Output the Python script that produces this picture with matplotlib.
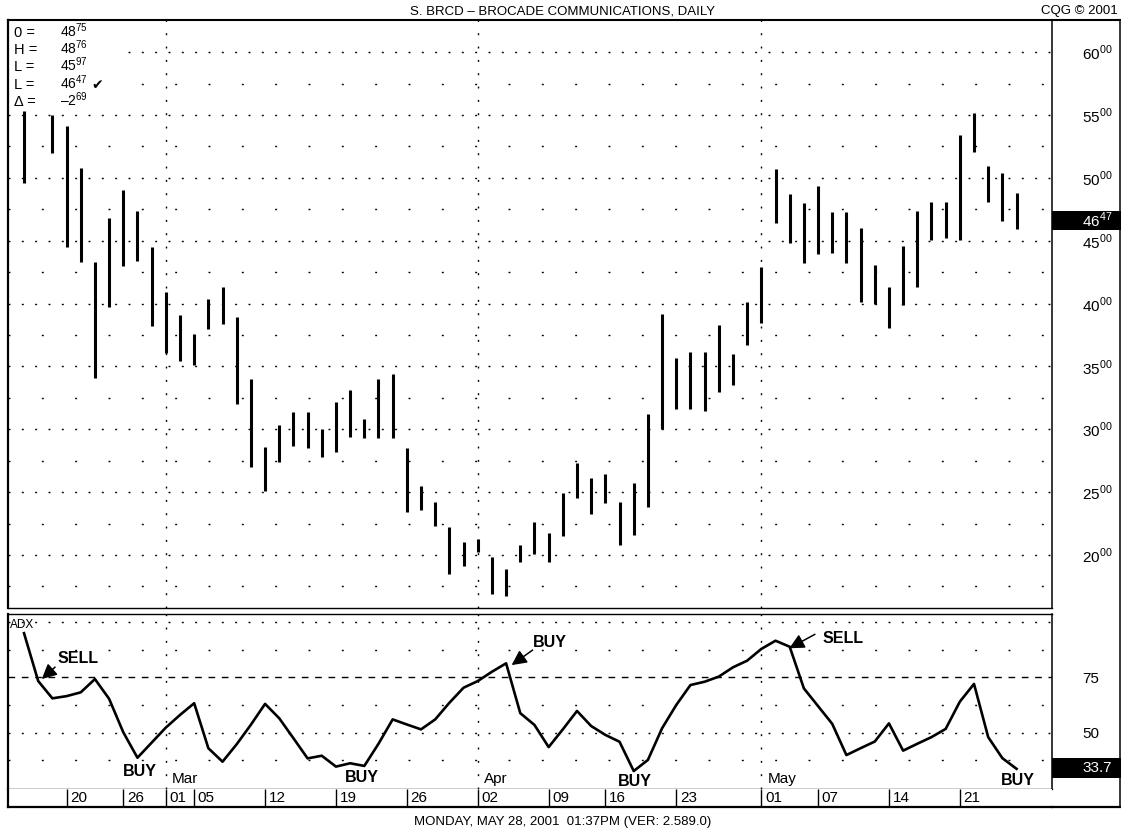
import matplotlib
matplotlib.use('Agg')
import matplotlib.pyplot as plt
from matplotlib.patches import Rectangle
from matplotlib.lines import Line2D
import numpy as np

plt.rcParams['font.family'] = ['Liberation Sans', 'DejaVu Sans']
plt.rcParams['mathtext.fontset'] = 'custom'
plt.rcParams['mathtext.rm'] = 'Liberation Sans'
plt.rcParams['lines.scale_dashes'] = False

# daily bars, Feb 14 - May 25 2001 (Feb 15 bar hidden under the info box)
dates = ['02-14', '02-15', '02-16', '02-20', '02-21', '02-22', '02-23', '02-26', '02-27', '02-28',
         '03-01', '03-02', '03-05', '03-06', '03-07', '03-08', '03-09', '03-12', '03-13', '03-14',
         '03-15', '03-16', '03-19', '03-20', '03-21', '03-22', '03-23', '03-26', '03-27', '03-28',
         '03-29', '03-30', '04-02', '04-03', '04-04', '04-05', '04-06', '04-09', '04-10', '04-11',
         '04-12', '04-16', '04-17', '04-18', '04-19', '04-20', '04-23', '04-24', '04-25', '04-26',
         '04-27', '04-30', '05-01', '05-02', '05-03', '05-04', '05-07', '05-08', '05-09', '05-10',
         '05-11', '05-14', '05-15', '05-16', '05-17', '05-18', '05-21', '05-22', '05-23', '05-24',
         '05-25']
highs = [55.3, np.nan, 55.0, 54.1, 50.8, 43.3, 46.8, 49.0, 47.4, 44.5,
         40.95, 39.1, 37.6, 40.4, 41.3, 38.9, 34.0, 28.6, 30.3, 31.4,
         31.4, 30.0, 32.2, 33.1, 30.8, 34.0, 34.4, 28.5, 25.5, 24.2,
         22.2, 21.0, 21.3, 19.8, 18.9, 20.8, 22.65, 21.75, 24.9, 27.35,
         26.15, 26.45, 24.2, 25.75, 31.2, 39.2, 35.65, 36.15, 36.15, 38.3,
         35.95, 40.15, 42.9, 50.7, 48.7, 48.0, 49.35, 47.3, 47.3, 46.05,
         43.05, 41.35, 44.55, 47.4, 48.1, 48.1, 53.4, 55.15, 50.95, 50.35,
         48.76]
lows = [49.6, np.nan, 52.0, 44.5, 43.3, 34.1, 39.75, 43.0, 43.4, 38.2,
        36.1, 35.4, 35.1, 38.0, 38.35, 32.0, 27.0, 25.1, 27.4, 28.7,
        28.5, 27.8, 28.2, 29.4, 29.3, 29.3, 29.3, 23.4, 23.6, 22.3,
        18.5, 19.1, 20.2, 16.9, 16.75, 19.4, 20.1, 19.4, 21.5, 24.5,
        23.25, 24.15, 20.8, 21.6, 23.85, 30.05, 31.6, 31.6, 31.45, 33.0,
        33.55, 36.7, 38.45, 46.4, 44.85, 43.2, 43.95, 44.05, 43.2, 40.15,
        39.95, 38.05, 39.9, 41.3, 45.05, 45.2, 45.05, 52.05, 48.05, 46.6,
        45.97]
adx = [94.9, 73.3, 65.5, 66.5, 68.2, 74.2, 65.3, 50.2, 38.7, 45.5,
       52.3, 58.0, 63.3, 43.0, 36.9, 44.8, 53.6, 63.0, 56.5, 47.5,
       38.4, 39.6, 34.7, 36.2, 35.0, 45.0, 56.0, 53.7, 51.5, 56.0,
       63.5, 70.3, 73.3, 77.5, 81.3, 58.8, 53.5, 43.5, 51.5, 59.8,
       53.0, 49.0, 45.9, 32.7, 37.7, 52.0, 62.5, 71.5, 73.0, 75.3,
       79.5, 82.5, 87.8, 91.5, 88.8, 70.0, 62.0, 54.0, 39.9, 43.0,
       46.0, 54.2, 41.9, 45.0, 48.0, 51.7, 64.0, 72.0, 48.0, 38.5,
       33.7]

tick_dates = ['02-20', '02-26', '03-01', '03-05', '03-12', '03-19', '03-26', '04-02',
              '04-09', '04-16', '04-23', '05-01', '05-07', '05-14', '05-21']
month_dates = ['03-01', '04-02', '05-01']
month_names = ['Mar', 'Apr', 'May']
price_ticks = [20, 25, 30, 35, 40, 45, 50, 55, 60]
adx_ticks = [50, 75]
last_price = 46.47
last_adx = 33.7

W, H = 1121, 832


def fx(px):
    return px / W


def fy(py):
    return 1 - py / H


def sup(base, s):
    return '$\\mathregular{' + base + '}^{\\mathregular{' + s + '}}$'


fig = plt.figure(figsize=(W / 100, H / 100), dpi=100)
fig.patch.set_facecolor('white')

ax_p = fig.add_axes([fx(8), fy(608), (1052 - 8) / W, (608 - 20) / H])
ax_a = fig.add_axes([fx(8), fy(789), (1052 - 8) / W, (789 - 614) / H])
ax_d = fig.add_axes([fx(8), fy(807), (1052 - 8) / W, (807 - 789) / H])

x = np.arange(len(dates))
xlim = (-1.13, 72.5)
dense = (0, (1.4, 8.2))
sparse = (0, (1.4, 22.6))

for ax in (ax_p, ax_a, ax_d):
    ax.set_xlim(*xlim)
    ax.set_xticks([])
    ax.tick_params(axis='both', length=0)
    for s in ax.spines.values():
        s.set_color('black')
        s.set_zorder(10)

# ---- price panel
ax_p.set_ylim(15.78, 62.56)
for p in price_ticks:
    ax_p.axhline(p, color='black', lw=1.0, ls=dense, zorder=1)
for p in np.arange(17.5, 60, 5):
    ax_p.axhline(p, color='black', lw=1.0, ls=sparse, zorder=1)
for d in month_dates:
    ax_p.axvline(dates.index(d), color='black', lw=1.0, ls=dense, zorder=1)

hi = np.array(highs)
lo = np.array(lows)
ok = ~np.isnan(hi)
ax_p.vlines(x[ok], lo[ok], hi[ok], color='black', lw=2.2, zorder=2)

ax_p.add_patch(Rectangle((0, 0.847), 0.107, 0.153, transform=ax_p.transAxes,
                         facecolor='white', edgecolor='none', zorder=3))

ax_p.yaxis.tick_right()
ax_p.set_yticks(price_ticks)
ax_p.set_yticklabels([sup(str(p), '00') for p in price_ticks], fontsize=11)
ax_p.tick_params(axis='y', pad=21.6)

ax_p.add_patch(Rectangle((1.0, last_price - 0.62), 69 / 1044, 1.55, transform=ax_p.get_yaxis_transform(),
                         facecolor='black', edgecolor='none', clip_on=False, zorder=5))
ax_p.text(1 + 30 / 1044, last_price + 0.15, sup('46', '47'),
          transform=ax_p.get_yaxis_transform(), color='white', fontsize=11,
          ha='left', va='center', zorder=6, clip_on=False)

ax_p.spines['left'].set_linewidth(1.6)
ax_p.spines['top'].set_linewidth(1.5)
ax_p.spines['right'].set_linewidth(1.1)
ax_p.spines['bottom'].set_linewidth(1.0)

# ---- ADX panel
ax_a.set_ylim(24.59, 103.56)
for v in (50, 100):
    ax_a.axhline(v, color='black', lw=1.0, ls=dense, zorder=1)
for v in (37.5, 62.5, 87.5):
    ax_a.axhline(v, color='black', lw=1.0, ls=sparse, zorder=1)
ax_a.axhline(75, color='black', lw=1.0, ls=(0, (4.8, 4.8)), zorder=1)
for d in month_dates:
    ax_a.axvline(dates.index(d), color='black', lw=1.0, ls=dense, zorder=1)

ax_a.plot(x, adx, color='black', lw=1.9, solid_joinstyle='round', zorder=3)

ax_a.yaxis.tick_right()
ax_a.set_yticks(adx_ticks)
ax_a.set_yticklabels([str(v) for v in adx_ticks], fontsize=11)
ax_a.tick_params(axis='y', pad=21.6)

ax_a.add_patch(Rectangle((1.0, last_adx - 4.2), 69 / 1044, 9.0, transform=ax_a.get_yaxis_transform(),
                         facecolor='black', edgecolor='none', clip_on=False, zorder=5))
ax_a.text(1 + 30 / 1044, last_adx + 0.3, '%.1f' % last_adx, transform=ax_a.get_yaxis_transform(),
          color='white', fontsize=11, ha='left', va='center', zorder=6, clip_on=False)

ax_a.text(-0.99, 98.6, 'ADX', fontsize=8.5, ha='left', va='center')

sig_kw = dict(fontsize=11.5, fontweight='bold', ha='left', va='center', zorder=4)
arrow_kw = dict(arrowstyle='-|>,head_length=0.9,head_width=0.45', color='black', lw=1.1,
                shrinkA=0, shrinkB=0)
ax_a.text(2.33, 83.3, 'SELL', **sig_kw)
ax_a.annotate('', xy=(1.25, 74.2), xytext=(2.19, 79.6), arrowprops=arrow_kw)
ax_a.text(35.9, 90.9, 'BUY', **sig_kw)
ax_a.annotate('', xy=(34.39, 80.5), xytext=(35.87, 87.3), arrowprops=arrow_kw)
ax_a.text(56.28, 92.3, 'SELL', **sig_kw)
ax_a.annotate('', xy=(53.97, 88.1), xytext=(55.78, 94.4), arrowprops=arrow_kw)
for bx, by in [(8.18, 32.7), (23.8, 29.8), (43.1, 28.2), (70.06, 28.4)]:
    ax_a.text(bx, by, 'BUY', fontsize=11.5, fontweight='bold', ha='center', va='center', zorder=4)
for d, name in zip(month_dates, month_names):
    ax_a.text(dates.index(d) + 0.45, 29.1, name, fontsize=11, ha='left', va='center')

ax_a.spines['left'].set_linewidth(1.6)
ax_a.spines['top'].set_linewidth(1.0)
ax_a.spines['right'].set_linewidth(1.1)
ax_a.spines['bottom'].set_linewidth(1.0)

# ---- date row
ax_d.set_ylim(0, 1)
ax_d.set_yticks([])
for d in tick_dates:
    i = dates.index(d)
    ax_d.vlines(i, 0, 1, color='black', lw=1.0)
    ax_d.text(i + 0.25, 0.5, d[3:], fontsize=11, ha='left', va='center')
ax_d.spines['top'].set_visible(False)
ax_d.spines['right'].set_visible(False)
ax_d.spines['left'].set_linewidth(1.6)
ax_d.spines['bottom'].set_linewidth(1.6)

# ---- outer frame pieces outside the panels
for xs, ys, lw in [((1052, 1120), (20, 20), 1.5), ((1120, 1120), (20, 807), 1.1),
                   ((1052, 1121), (807, 807), 1.6)]:
    fig.add_artist(Line2D([fx(xs[0]), fx(xs[1])], [fy(ys[0]), fy(ys[1])],
                          transform=fig.transFigure, color='black', lw=lw))

# ---- header, footer, info box
fig.text(fx(563), fy(11), 'S. BRCD \u2013 BROCADE COMMUNICATIONS, DAILY', fontsize=9.5,
         ha='center', va='center')
fig.text(fx(1118), fy(11), 'CQG \u00a9 2001', fontsize=9.5, ha='right', va='center')
fig.text(fx(563), fy(822), 'MONDAY, MAY 28, 2001  01:37PM (VER: 2.589.0)', fontsize=9.5,
         ha='center', va='center')

info_names = ['0 =', 'H =', 'L =', 'L =', '\u0394 =']
info_vals = [sup('48', '75'), sup('48', '76'), sup('45', '97'), sup('46', '47'), sup('\u20132', '69')]
info_y = [37, 54, 71, 89, 106]
for name, val, yy in zip(info_names, info_vals, info_y):
    fig.text(fx(14), fy(yy), name, fontsize=10.5, ha='left', va='baseline')
    fig.text(fx(60), fy(yy), val, fontsize=10, ha='left', va='baseline')
fig.text(fx(91), fy(89), '\u2714', fontsize=10, ha='left', va='baseline', family='DejaVu Sans')

fig.savefig('out.png', dpi=100, facecolor='white')
